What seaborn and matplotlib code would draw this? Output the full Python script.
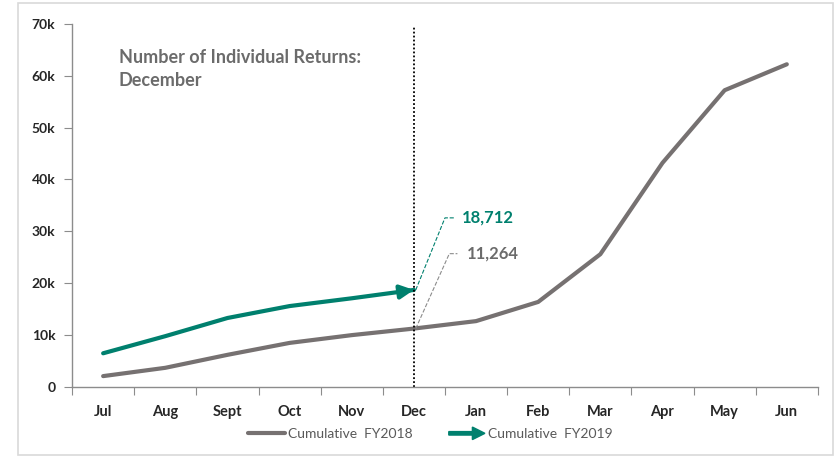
"""Cumulative individual returns FY2018 vs FY2019, marker at December."""

import matplotlib.pyplot as plt
import matplotlib.patches as mpatches
from matplotlib.legend_handler import HandlerPatch
from matplotlib.lines import Line2D
import numpy as np
import pandas as pd
import seaborn as sns

# ── Data ─────────────────────────────────────────────
months = ["Jul", "Aug", "Sept", "Oct", "Nov", "Dec", "Jan", "Feb", "Mar", "Apr", "May", "Jun"]
fy2018 = [2100, 3700, 6200, 8500, 10000, 11264, 12700, 16400, 25600, 43200, 57200, 62200]
fy2019 = [6500, 9800, 13300, 15600, 17100, 18712]
y_ticks = [0, 10000, 20000, 30000, 40000, 50000, 60000, 70000]
y_tick_labels = ["0", "10k", "20k", "30k", "40k", "50k", "60k", "70k"]
title = "Number of Individual Returns:\nDecember"
marker_month = "Dec"

# ── Style ────────────────────────────────────────────
GRAY = "#767171"
GREEN = "#00806e"
AXIS = "#8c8c8c"
TEXT_GRAY = "#6b6b6b"

sns.set_style("white")
plt.rcParams["font.family"] = ["Lato", "DejaVu Sans"]

df = pd.DataFrame({"idx": np.arange(len(months)), "month": months, "FY2018": fy2018})
df["FY2019"] = pd.Series(fy2019, dtype=float)

fig = plt.figure(figsize=(8.38, 4.58), dpi=100)
ax = fig.add_axes([0.086, 0.155, 0.890, 0.793])

# light frame around the whole chart
fig.patches.append(mpatches.Rectangle((0.021, 0.006), 0.973, 0.988, transform=fig.transFigure,
                                      fill=False, edgecolor="#d9d9d9", linewidth=1.2))

sns.lineplot(data=df, x="idx", y="FY2018", color=GRAY, linewidth=3, ax=ax)
sns.lineplot(data=df.dropna(subset=["FY2019"]), x="idx", y="FY2019", color=GREEN,
             linewidth=3, ax=ax)

# arrowhead on the last FY2019 point
i_dec = months.index(marker_month)
last = len(fy2019) - 1
x0 = last - 0.25
y0 = fy2019[last - 1] + (fy2019[last] - fy2019[last - 1]) * 0.75
ax.annotate("", xy=(last, fy2019[last]), xytext=(x0, y0),
            arrowprops=dict(arrowstyle="-|>,head_length=0.8,head_width=0.4",
                            color=GREEN, linewidth=3, shrinkA=0, shrinkB=0))

# vertical dotted marker
ax.vlines(i_dec, 0, 69500, colors="black", linestyles=(0, (1, 1.2)), linewidth=1.3)

# value call-outs with dashed leaders
ax.plot([i_dec + 0.03, i_dec + 0.5, i_dec + 0.65],
        [fy2019[i_dec], 32600, 32600], color=GREEN, linestyle="--", linewidth=0.8)
ax.text(i_dec + 0.77, 32600, f"{fy2019[i_dec]:,}", color=GREEN, fontsize=12,
        fontweight="bold", va="center", ha="left")
ax.plot([i_dec + 0.03, i_dec + 0.57, i_dec + 0.7],
        [fy2018[i_dec], 25700, 25700], color="#8c8c8c", linestyle="--", linewidth=0.8)
ax.text(i_dec + 0.85, 25700, f"{fy2018[i_dec]:,}", color=TEXT_GRAY, fontsize=12,
        fontweight="bold", va="center", ha="left")

ax.text(0.25, 61300, title, color=TEXT_GRAY, fontsize=13, fontweight="bold",
        va="center", ha="left", linespacing=1.4)

# axes
ax.set_xlim(-0.5, len(months) - 0.5)
ax.set_ylim(0, 70000)
ax.set_xticks(np.arange(len(months) + 1) - 0.5)
ax.set_xticklabels([])
ax.set_xticks(np.arange(len(months)), minor=True)
ax.set_xticklabels(months, minor=True, fontsize=10.5, fontweight="bold")
ax.set_yticks(y_ticks)
ax.set_yticklabels(y_tick_labels, fontsize=10, fontweight="bold")
ax.tick_params(axis="x", which="major", direction="out", length=6, color=AXIS, bottom=True)
ax.tick_params(axis="x", which="minor", length=0, pad=13)
ax.tick_params(axis="y", direction="out", length=6, color=AXIS, left=True, pad=6)
ax.set_xlabel("")
ax.set_ylabel("")
for side in ("top", "right"):
    ax.spines[side].set_visible(False)
for side in ("left", "bottom"):
    ax.spines[side].set_color(AXIS)
    ax.spines[side].set_linewidth(1)


def make_arrow(legend, orig_handle, xdescent, ydescent, width, height, fontsize):
    return mpatches.FancyArrow(0, height / 2, width, 0, width=2.5, head_width=9,
                               head_length=9, length_includes_head=True, color=GREEN)


handles = [Line2D([], [], color=GRAY, linewidth=3),
           mpatches.FancyArrow(0, 0, 1, 0, color=GREEN)]
fig.legend(handles, ["Cumulative  FY2018", "Cumulative  FY2019"],
           handler_map={mpatches.FancyArrow: HandlerPatch(patch_func=make_arrow)},
           loc="center", bbox_to_anchor=(0.514, 0.052), ncol=2, frameon=False,
           fontsize=10, labelcolor="#595959", handlelength=2.6, handletextpad=0.25,
           columnspacing=2.6)

fig.savefig("out.png", dpi=100, facecolor="white")
